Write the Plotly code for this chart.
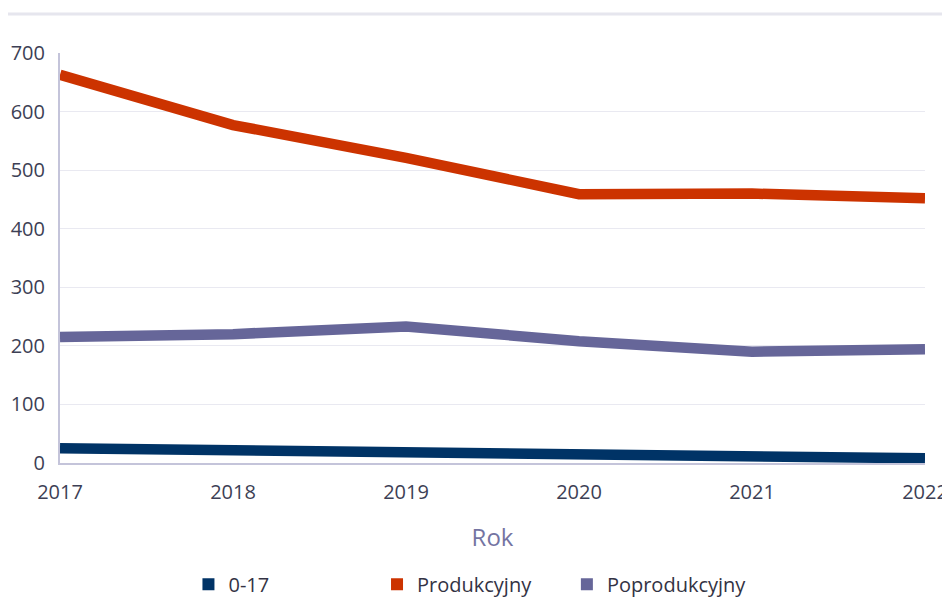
import plotly.graph_objects as go

years = [2017, 2018, 2019, 2020, 2021, 2022]
series_names = ["0-17", "Produkcyjny", "Poprodukcyjny"]
v_0_17 = [25, 22, 15, 12, 11, 8]
v_produkcyjny = [663, 577, 521, 459, 460, 452]
v_poprodukcyjny = [215, 220, 233, 208, 190, 194]
colors = ["#003366", "#cc3300", "#666699"]
y_ticks = [0, 100, 200, 300, 400, 500, 600, 700]

legend_ids = ["legend", "legend2", "legend3"]
legend_x = [0.1485, 0.3665, 0.586]

fig = go.Figure()
for name, vals, col in zip(series_names, [v_0_17, v_produkcyjny, v_poprodukcyjny], colors):
    fig.add_trace(go.Scatter(x=years, y=vals, mode="lines", name=name,
                             line=dict(color=col, width=10.5), showlegend=False,
                             hovertemplate="%{x}: %{y}<extra>" + name + "</extra>"))
for name, col, lid in zip(series_names, colors, legend_ids):
    fig.add_trace(go.Scatter(x=[None], y=[None], mode="markers", name=name, legend=lid,
                             marker=dict(symbol="square", size=12, color=col)))

leg_common = dict(orientation="h", xanchor="left", y=-0.296, yanchor="middle",
                  font=dict(size=20, color="#333344"), itemwidth=30,
                  bgcolor="rgba(0,0,0,0)")

fig.update_layout(
    width=942, height=589,
    margin=dict(l=52, r=25, t=45, b=134, autoexpand=False),
    paper_bgcolor="white", plot_bgcolor="white",
    font=dict(family="Open Sans, DejaVu Sans, sans-serif", color="#3d3f55", size=20),
    xaxis=dict(range=[2017, 2022], tickvals=years, showgrid=False, automargin=False,
               showline=True, linecolor="#c4c4da", linewidth=2,
               ticks="", ticklabelstandoff=10, tickfont=dict(size=20, color="#3d3f55"),
               title=dict(text="Rok", font=dict(size=24, color="#7474a2"), standoff=25),
               zeroline=False, fixedrange=True),
    yaxis=dict(range=[0, 700], tickvals=y_ticks, showgrid=True, gridcolor="#e9e9f1",
               gridwidth=1, showline=True, linecolor="#c4c4da", linewidth=2, automargin=False,
               ticks="", ticklabelstandoff=9, tickfont=dict(size=20, color="#3d3f55"),
               zeroline=False, fixedrange=True),
    legend=dict(x=legend_x[0], **leg_common),
    legend2=dict(x=legend_x[1], **leg_common),
    legend3=dict(x=legend_x[2], **leg_common),
    shapes=[dict(type="line", xref="paper", yref="paper", x0=-0.062, x1=1.03,
                 y0=1.095, y1=1.095, line=dict(color="#e6e6ee", width=3))],
)

fig.write_html("out.html")
